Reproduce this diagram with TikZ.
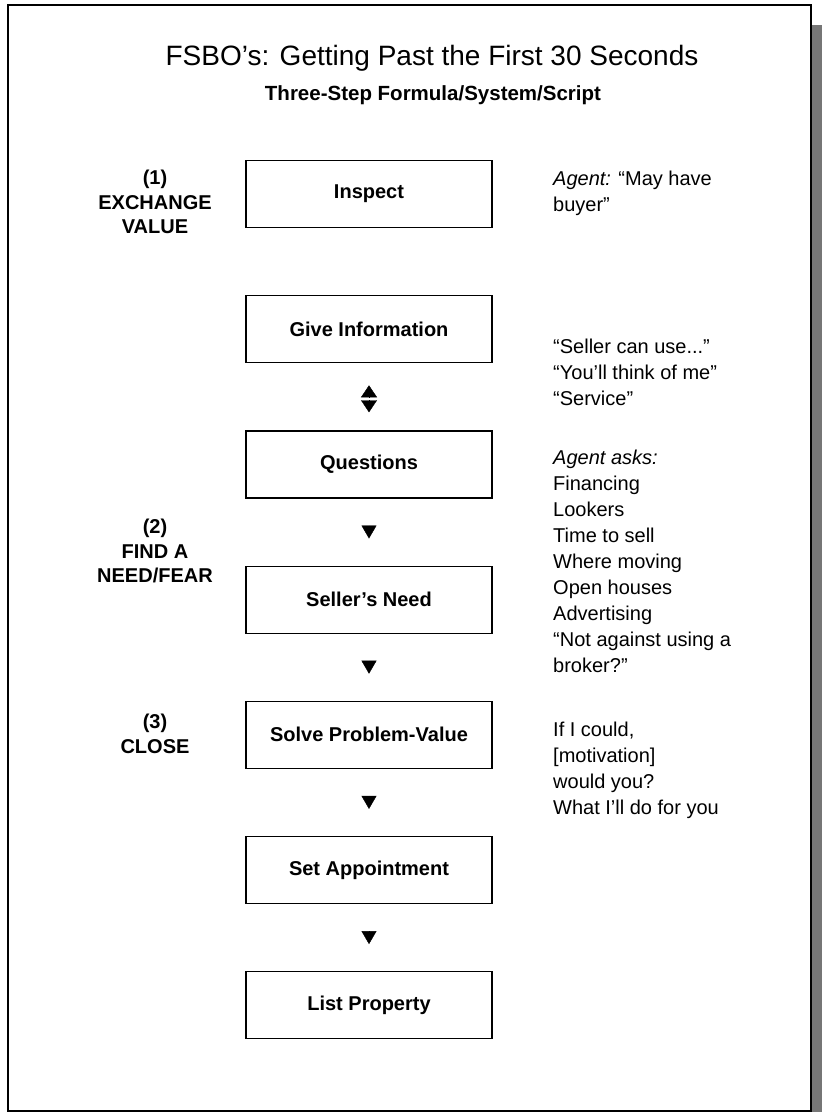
\documentclass[tikz,border=0pt]{standalone}
\usepackage{fontspec}
\setmainfont{Liberation Sans}
\usetikzlibrary{positioning,arrows.meta}
\definecolor{shadowgray}{HTML}{767676}

\begin{document}
\begin{tikzpicture}[
  x=1pt, y=-1pt,
  node distance=67pt,
  box/.style={draw, line width=1.2pt, minimum width=246pt, minimum height=67pt, inner sep=2pt, font=\bfseries\fontsize{20}{24}\selectfont},
  stage/.style={align=center, inner sep=0pt, font=\bfseries\fontsize{20}{24.5}\selectfont},
  note/.style={anchor=west, align=left, inner sep=0pt, font=\fontsize{20}{26}\selectfont},
  flow/.style={-{Triangle[length=13pt, width=15pt]}, shorten <=27pt, shorten >=27pt},
  flowtwo/.style={-{Triangle[length=12pt, width=16pt]}},
]
  \useasboundingbox (0,0) rectangle (822,1112);
  \fill[shadowgray] (812,25) rectangle (822,1112);
  \draw[line width=1.6pt] (8,5) rectangle (811,1111);

  \node[anchor=base, font=\fontsize{28}{32}\selectfont] (title) at (432,65) {FSBO’s: Getting Past the First 30 Seconds};
  \node[anchor=base, font=\bfseries\fontsize{20.5}{24}\selectfont] (subtitle) at (433,100) {Three-Step Formula/System/Script};

  \node[box] (inspect) at (369,194) {Inspect};
  \node[box, below=of inspect] (give) {Give Information};
  \node[box, below=of give] (quest) {Questions};
  \node[box, below=of quest] (need) {Seller’s Need};
  \node[box, below=of need] (solve) {Solve Problem-Value};
  \node[box, below=of solve] (appoint) {Set Appointment};
  \node[box, below=of appoint] (listing) {List Property};

  \node[stage] (exchange) at (155,202) {(1)\\EXCHANGE\\VALUE};
  \node[stage] (findneed) at (155,551) {(2)\\FIND A\\NEED/FEAR};
  \node[stage] (close) at (155,734) {(3)\\CLOSE};

  \node[note] (buyer) at (553,193) {\textit{Agent:} “May have\\buyer”};
  \node[note] (useful) at (553,372) {“Seller can use...”\\“You’ll think of me”\\“Service”};
  \node[note] (asks) at (553,561) {\textit{Agent asks:}\\Financing\\Lookers\\Time to sell\\Where moving\\Open houses\\Advertising\\“Not against using a\\broker?”};
  \node[note] (motive) at (553,770) {If I could,\\{[motivation]}\\would you?\\What I’ll do for you};

  \draw[flowtwo, shorten <=33pt, shorten >=22pt] (quest) -- (give);
  \draw[flowtwo, shorten <=37pt, shorten >=18pt] (give) -- (quest);
  \draw[flow] (quest) -- (need);
  \draw[flow] (need) -- (solve);
  \draw[flow] (solve) -- (appoint);
  \draw[flow] (appoint) -- (listing);
\end{tikzpicture}
\end{document}
